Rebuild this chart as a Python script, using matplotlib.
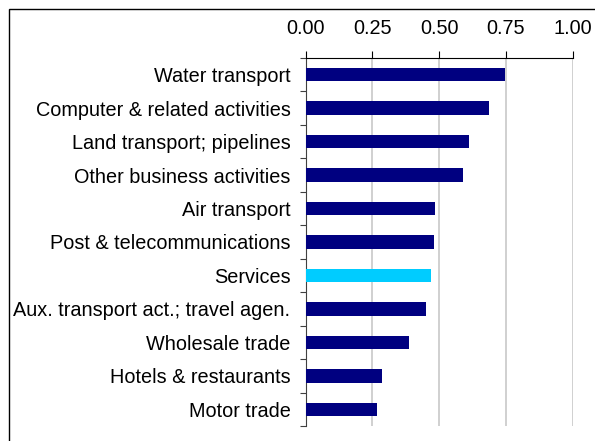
import matplotlib
matplotlib.use("Agg")
import matplotlib.pyplot as plt
import matplotlib.patches as mpatches
import numpy as np

plt.rcParams['font.family'] = ['Liberation Sans', 'DejaVu Sans']

# Данные
categories = ['Water transport', 'Computer & related activities', 'Land transport; pipelines',
              'Other business activities', 'Air transport', 'Post & telecommunications',
              'Services', 'Aux. transport act.; travel agen.', 'Wholesale trade',
              'Hotels & restaurants', 'Motor trade']
values = [0.746, 0.687, 0.611, 0.589, 0.484, 0.480, 0.469, 0.450, 0.387, 0.286, 0.267]
highlight = 'Services'

navy = '#000080'
cyan = '#00CCFF'
colors = [cyan if c == highlight else navy for c in categories]

fig = plt.figure(figsize=(5.95, 4.41), dpi=100)
ax = fig.add_axes([0.5138, 0.034, 0.4487, 0.8345])

y = np.arange(len(categories))
ax.barh(y, values, height=0.4, color=colors, zorder=3)

ax.set_xlim(0, 1.0)
ax.set_ylim(len(categories) - 0.5, -0.5)
ax.set_xticks([0, 0.25, 0.5, 0.75, 1.0])
ax.set_xticklabels(['0.00', '0.25', '0.50', '0.75', '1.00'])
ax.xaxis.tick_top()
ax.tick_params(axis='x', direction='out', length=4.75, width=0.8, pad=10, labelsize=14.3, colors='black')
ax.grid(axis='x', color='#C8C8C8', linewidth=1.2, zorder=0)

# подписи категорий по центру, засечки на границах
ax.set_yticks(y)
ax.set_yticklabels(categories)
ax.tick_params(axis='y', which='major', length=0, pad=11, labelsize=14.3)
ax.set_yticks(np.arange(len(categories) + 1) - 0.5, minor=True)
ax.tick_params(axis='y', which='minor', direction='out', length=4, width=0.8, color='#404040')

for s in ['right', 'bottom']:
    ax.spines[s].set_visible(False)
ax.spines['top'].set_color('black')
ax.spines['left'].set_color('#404040')

# рамка вокруг графика
frame = mpatches.Rectangle((8.5 / 595, -0.1), 1.2, 1 - 9 / 441 + 0.1, transform=fig.transFigure,
                           fill=False, edgecolor='black', linewidth=1.0)
fig.patches.append(frame)

fig.savefig('out.png', dpi=100)
